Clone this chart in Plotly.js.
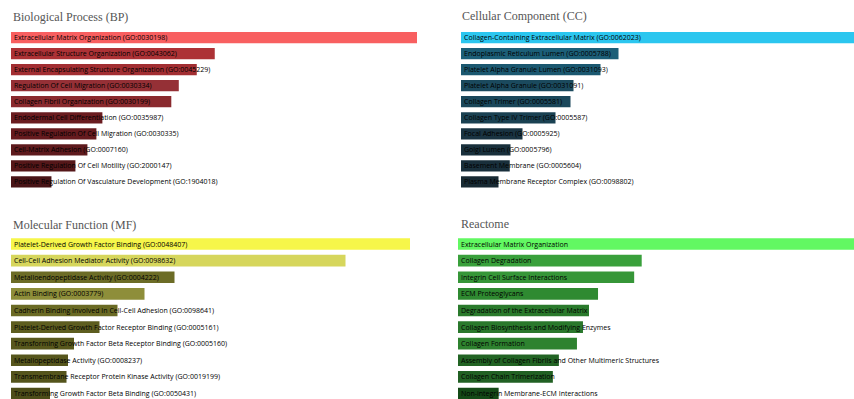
<!DOCTYPE html>
<html>
<head>
<meta charset="utf-8">
<script src="https://cdn.plot.ly/plotly-3.0.1.min.js"></script>
<style>html,body{margin:0;padding:0;background:#fff;}#chart{width:854px;height:399px;}</style>
</head>
<body>
<div id="chart"></div>
<script>
// ---- data ----
const bpTerms = [
  "Extracellular Matrix Organization (GO:0030198)",
  "Extracellular Structure Organization (GO:0043062)",
  "External Encapsulating Structure Organization (GO:0045229)",
  "Regulation Of Cell Migration (GO:0030334)",
  "Collagen Fibril Organization (GO:0030199)",
  "Endodermal Cell Differentiation (GO:0035987)",
  "Positive Regulation Of Cell Migration (GO:0030335)",
  "Cell-Matrix Adhesion (GO:0007160)",
  "Positive Regulation Of Cell Motility (GO:2000147)",
  "Positive Regulation Of Vasculature Development (GO:1904018)"
];
const bpScores = [27.1, 13.6, 12.4, 11.2, 10.7, 6.1, 5.7, 5.1, 4.3, 2.7];

const ccTerms = [
  "Collagen-Containing Extracellular Matrix (GO:0062023)",
  "Endoplasmic Reticulum Lumen (GO:0005788)",
  "Platelet Alpha Granule Lumen (GO:0031093)",
  "Platelet Alpha Granule (GO:0031091)",
  "Collagen Trimer (GO:0005581)",
  "Collagen Type IV Trimer (GO:0005587)",
  "Focal Adhesion (GO:0005925)",
  "Golgi Lumen (GO:0005796)",
  "Basement Membrane (GO:0005604)",
  "Plasma Membrane Receptor Complex (GO:0098802)"
];
const ccScores = [26.2, 10.5, 9.3, 7.5, 7.3, 6.3, 4.1, 3.3, 3.25, 2.5];

const mfTerms = [
  "Platelet-Derived Growth Factor Binding (GO:0048407)",
  "Cell-Cell Adhesion Mediator Activity (GO:0098632)",
  "Metalloendopeptidase Activity (GO:0004222)",
  "Actin Binding (GO:0003779)",
  "Cadherin Binding Involved In Cell-Cell Adhesion (GO:0098641)",
  "Platelet-Derived Growth Factor Receptor Binding (GO:0005161)",
  "Transforming Growth Factor Beta Receptor Binding (GO:0005160)",
  "Metallopeptidase Activity (GO:0008237)",
  "Transmembrane Receptor Protein Kinase Activity (GO:0019199)",
  "Transforming Growth Factor Beta Binding (GO:0050431)"
];
const mfScores = [26.6, 22.3, 10.9, 8.9, 7.1, 5.9, 4.2, 3.8, 3.7, 2.6];

const reTerms = [
  "Extracellular Matrix Organization",
  "Collagen Degradation",
  "Integrin Cell Surface Interactions",
  "ECM Proteoglycans",
  "Degradation of the Extracellular Matrix",
  "Collagen Biosynthesis and Modifying Enzymes",
  "Collagen Formation",
  "Assembly of Collagen Fibrils and Other Multimeric Structures",
  "Collagen Chain Trimerization",
  "Non-integrin Membrane-ECM Interactions"
];
const reScores = [26.3, 12.2, 11.7, 9.3, 8.7, 8.3, 7.9, 6.7, 6.3, 2.7];

const panelTitles = ["Biological Process (BP)", "Cellular Component (CC)", "Molecular Function (MF)", "Reactome"];

// ---- styles ----
const bpColors = ["#f85f60","#ad3236","#a22e32","#953036","#8a2a2e","#6a1c20","#661b1f","#5e1a1d","#551719","#481417"];
const ccColors = ["#2bc6ef","#1c5f78","#1b5870","#1b4a5e","#1a475a","#1a4152","#1a3442","#19303c","#192f3b","#182a33"];
const mfColors = ["#f6f64a","#d6d65c","#6c6c26","#8e8e3a","#6a6a24","#5d5d1f","#58581d","#56561d","#54541c","#4d4d19"];
const reColors = ["#62f862","#39a03b","#369638","#2f8a31","#2a7a2c","#2a782c","#2e822f","#226424","#216023","#154a17"];

const W = 854, H = 399;
const px = v => v / W;
const py = v => 1 - v / H;

function trace(terms, scores, colors, xa, ya) {
  return {
    type: 'bar', orientation: 'h',
    x: scores, y: terms.map((t, i) => i), text: terms,
    xaxis: xa, yaxis: ya,
    marker: {color: colors, line: {width: 0}},
    textposition: 'inside', insidetextanchor: 'start', constraintext: 'none',
    textangle: 0, cliponaxis: false,
    insidetextfont: {family: 'Open Sans, Arial, sans-serif', size: 7, color: '#000'},
    hoverinfo: 'none'
  };
}

const data = [
  trace(bpTerms, bpScores, bpColors, 'x', 'y'),
  trace(ccTerms, ccScores, ccColors, 'x2', 'y2'),
  trace(mfTerms, mfScores, mfColors, 'x3', 'y3'),
  trace(reTerms, reScores, reColors, 'x4', 'y4')
];

const hid = {visible: false, showgrid: false, zeroline: false, fixedrange: true};
const topRange = [9.5, -0.5];
const botRange = [9.33, -0.5];
const topDom = [py(190), py(29.5)];
const botDom = [0, py(235.7)];

const layout = {
  width: W, height: H,
  margin: {l: 0, r: 0, t: 0, b: 0},
  paper_bgcolor: '#fff', plot_bgcolor: '#fff',
  showlegend: false, bargap: 0.3,
  xaxis:  Object.assign({}, hid, {domain: [px(11), px(417)], range: [0, Math.max(...bpScores)], anchor: 'y'}),
  yaxis:  Object.assign({}, hid, {domain: topDom, range: topRange, anchor: 'x'}),
  xaxis2: Object.assign({}, hid, {domain: [px(461), 1], range: [0, Math.max(...ccScores)], anchor: 'y2'}),
  yaxis2: Object.assign({}, hid, {domain: topDom, range: topRange, anchor: 'x2'}),
  xaxis3: Object.assign({}, hid, {domain: [px(11), px(410)], range: [0, Math.max(...mfScores)], anchor: 'y3'}),
  yaxis3: Object.assign({}, hid, {domain: botDom, range: botRange, anchor: 'x3'}),
  xaxis4: Object.assign({}, hid, {domain: [px(458), 1], range: [0, Math.max(...reScores)], anchor: 'y4'}),
  yaxis4: Object.assign({}, hid, {domain: botDom, range: botRange, anchor: 'x4'}),
  annotations: [
    [panelTitles[0], 11, 17],
    [panelTitles[1], 460, 16],
    [panelTitles[2], 11, 225],
    [panelTitles[3], 459, 224]
  ].map(a => ({
    text: a[0], xref: 'paper', yref: 'paper', x: px(a[1]), y: py(a[2]),
    xanchor: 'left', yanchor: 'middle', showarrow: false,
    font: {family: 'Liberation Serif, serif', size: 12, color: '#555'}
  }))
};

Plotly.newPlot('chart', data, layout, {displayModeBar: false, staticPlot: true});
</script>
</body>
</html>
